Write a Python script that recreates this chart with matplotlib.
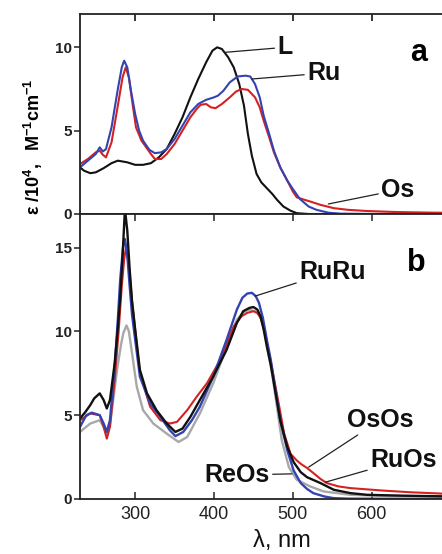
import matplotlib
matplotlib.use("Agg")
import matplotlib.pyplot as plt

plt.rcParams['font.family'] = ['Liberation Sans', 'DejaVu Sans']
plt.rcParams['mathtext.fontset'] = 'custom'
plt.rcParams['mathtext.rm'] = 'Liberation Sans'
plt.rcParams['mathtext.bf'] = 'Liberation Sans:bold'
plt.rcParams['mathtext.it'] = 'Liberation Sans:italic'

# ---------------- data: panel a ----------------
L_wl = [230, 235, 243, 250, 260, 270, 278, 290, 300, 310, 320, 330, 340, 350, 360, 370, 380, 390, 398, 404,
        410, 418, 425, 432, 438, 443, 448, 454, 460, 467, 474, 480, 488, 497, 505, 520, 550, 700]
L_eps = [2.8, 2.6, 2.45, 2.5, 2.75, 3.05, 3.2, 3.1, 2.95, 2.95, 3.05, 3.4, 3.9, 4.8, 5.8, 7.0, 8.1, 9.1, 9.8, 10.0,
         9.9, 9.4, 8.8, 7.8, 6.5, 4.8, 3.5, 2.4, 1.9, 1.55, 1.2, 0.85, 0.45, 0.2, 0.05, 0.0, 0.0, 0.0]

Ru_wl = [230, 240, 250, 255, 259, 263, 270, 278, 283, 286, 290, 295, 300, 305, 310, 318, 325, 333, 340, 350,
         360, 370, 380, 390, 400, 405, 412, 420, 430, 440, 446, 452, 458, 463, 470, 476, 484, 493, 500, 509,
         520, 530, 545, 560, 600, 700]
Ru_eps = [2.8, 3.2, 3.6, 4.0, 3.75, 3.9, 5.2, 7.5, 8.8, 9.2, 8.8, 7.3, 6.0, 5.0, 4.4, 3.85, 3.65, 3.7, 3.9, 4.5,
          5.3, 6.1, 6.6, 6.85, 7.0, 7.1, 7.4, 7.9, 8.25, 8.3, 8.25, 7.8, 7.0, 5.9, 4.8, 3.8, 2.8, 2.0, 1.5, 0.9,
          0.45, 0.25, 0.08, 0.02, 0.0, 0.0]

Os_wl = [230, 240, 250, 255, 259, 263, 270, 278, 284, 288, 292, 297, 301, 308, 314, 320, 325, 333, 340, 350,
         360, 370, 378, 383, 390, 396, 402, 410, 420, 428, 435, 443, 452, 458, 463, 470, 476, 484, 493, 500,
         505, 515, 522, 535, 552, 570, 594, 630, 679, 700]
Os_eps = [3.0, 3.3, 3.7, 3.8, 3.55, 3.4, 4.3, 6.5, 8.2, 8.8, 8.2, 6.5, 5.2, 4.4, 4.0, 3.6, 3.3, 3.3, 3.6, 4.2,
          5.0, 5.8, 6.3, 6.55, 6.6, 6.4, 6.35, 6.6, 7.0, 7.35, 7.5, 7.45, 7.0, 6.4, 5.6, 4.6, 3.7, 2.8, 2.0, 1.35,
          1.0, 0.85, 0.75, 0.55, 0.35, 0.25, 0.18, 0.12, 0.08, 0.07]

# ---------------- data: panel b ----------------
RuOs_wl = [230, 237, 243, 248, 255, 260, 264, 268, 274, 278, 281, 284, 287, 290, 293, 296, 300, 306, 315, 327,
           340, 351, 360, 370, 382, 399, 416, 429, 437, 445, 450, 455, 459, 463, 467, 472, 476, 480, 484, 489,
           493, 501, 510, 518, 535, 552, 573, 594, 637, 700]
RuOs_eps = [4.8, 5.2, 5.6, 6.0, 6.3, 5.9, 5.4, 5.9, 8.1, 10.2, 12.0, 14.5, 17.3, 16.0, 13.7, 11.8, 10.1, 7.7, 6.3, 5.3,
            4.5, 4.0, 4.2, 4.9, 5.9, 7.3, 8.9, 10.5, 11.2, 11.4, 11.45, 11.3, 10.9, 10.1, 9.1, 8.0, 6.9, 5.8, 4.7, 3.8,
            3.1, 2.2, 1.6, 1.3, 0.95, 0.55, 0.35, 0.25, 0.2, 0.15]

RuRu_wl = [230, 238, 245, 255, 260, 264, 268, 274, 278, 281, 285, 287, 290, 293, 296, 300, 306, 319, 332, 344,
           351, 361, 372, 382, 399, 416, 429, 436, 442, 448, 453, 457, 462, 467, 472, 476, 480, 484, 493, 501,
           510, 518, 526, 540, 552, 570, 700]
RuRu_eps = [4.3, 5.0, 5.15, 5.0, 4.5, 4.0, 4.7, 7.9, 10.7, 13.1, 15.2, 15.5, 14.5, 12.7, 11.0, 9.5, 7.3, 5.7, 4.9, 4.1,
            3.75, 4.0, 4.7, 5.5, 7.3, 9.5, 11.3, 12.0, 12.25, 12.3, 12.1, 11.7, 10.8, 9.5, 8.3, 7.1, 5.9, 4.7, 2.9, 1.7,
            0.95, 0.6, 0.35, 0.15, 0.05, 0.02, 0.0]

OsOs_wl = [230, 243, 255, 260, 264, 268, 274, 279, 283, 286, 288, 291, 293, 296, 300, 306, 319, 332, 344, 353,
           366, 378, 391, 408, 425, 435, 442, 450, 455, 459, 463, 467, 472, 478, 484, 489, 497, 505, 510, 518,
           526, 535, 543, 558, 573, 615, 650, 700]
OsOs_eps = [4.7, 5.1, 5.0, 4.3, 3.6, 4.3, 7.1, 10.0, 12.7, 14.3, 14.9, 14.3, 13.5, 11.8, 10.1, 7.5, 5.5, 4.7, 4.5, 4.6,
            5.3, 6.1, 6.9, 8.3, 10.3, 10.9, 11.1, 11.2, 11.1, 10.8, 10.2, 9.3, 8.2, 6.7, 5.2, 3.9, 2.7, 2.3, 2.1, 1.85,
            1.55, 1.2, 0.95, 0.75, 0.65, 0.5, 0.4, 0.3]

ReOs_wl = [230, 243, 255, 260, 264, 268, 277, 282, 285, 289, 292, 296, 302, 310, 323, 340, 355, 366, 382, 399,
           416, 429, 438, 444, 452, 457, 461, 465, 469, 474, 478, 482, 486, 495, 505, 522, 539, 573, 620, 700]
ReOs_eps = [4.0, 4.5, 4.7, 4.3, 3.9, 4.4, 7.7, 9.2, 9.9, 10.35, 10.0, 8.7, 6.7, 5.3, 4.5, 3.9, 3.4, 3.7, 5.1, 6.9,
            9.1, 10.7, 11.15, 11.3, 11.2, 11.0, 10.7, 9.9, 8.7, 7.4, 6.1, 4.8, 3.5, 1.9, 1.15, 0.75, 0.45, 0.25, 0.18, 0.15]

xticks = [300, 400, 500, 600]
yticks_a = [0, 5, 10]
yticks_b = [0, 5, 10, 15]

BLACK = '#111111'
BLUE = '#3343b0'
RED = '#d42222'
GRAY = '#a8a8a8'

fig = plt.figure(figsize=(4.42, 5.54), dpi=100)
ax_a = fig.add_axes([80/442, 1 - 214/554, 370.5/442, 200/554])
ax_b = fig.add_axes([80/442, 1 - 499/554, 370.5/442, 285/554])

lw = 1.5
ax_a.plot(L_wl, L_eps, color=BLACK, lw=lw)
ax_a.plot(Os_wl, Os_eps, color=RED, lw=lw)
ax_a.plot(Ru_wl, Ru_eps, color=BLUE, lw=lw)

ax_b.plot(ReOs_wl, ReOs_eps, color=GRAY, lw=lw + 0.2)
ax_b.plot(OsOs_wl, OsOs_eps, color=RED, lw=lw)
ax_b.plot(RuRu_wl, RuRu_eps, color=BLUE, lw=lw + 0.2)
ax_b.plot(RuOs_wl, RuOs_eps, color=BLACK, lw=lw + 0.2)

for ax in (ax_a, ax_b):
    ax.set_xlim(230, 700)
    ax.set_xticks(xticks)
    for s in ax.spines.values():
        s.set_linewidth(1.3)
        s.set_color('#222222')
    ax.tick_params(axis='y', direction='out', length=4, width=1.1, left=True, right=False,
                   labelsize=11, pad=2, colors='#222222')

ax_a.set_ylim(0, 12)
ax_a.set_yticks(yticks_a)
ax_a.tick_params(axis='x', direction='in', length=5, width=1.1, top=True, bottom=False,
                 labelbottom=False)
ax_b.set_ylim(0, 17)
ax_b.set_yticks(yticks_b)
ax_b.tick_params(axis='x', direction='in', length=5, width=1.1, top=True, bottom=True,
                 labelsize=13, pad=5, colors='#222222')
for ax in (ax_a, ax_b):
    for lab in ax.get_yticklabels():
        lab.set_fontweight('bold')

# annotations panel a
tk = dict(fontsize=18, fontweight='bold', ha='center', va='center', color='#111111')
ak = dict(arrowstyle='-', color='#222222', lw=0.9, shrinkA=0, shrinkB=0)
ax_a.annotate('L', xy=(414, 9.7), xytext=(490, 10.0), arrowprops=ak, **tk)
ax_a.annotate('Ru', xy=(448, 8.1), xytext=(539, 8.45), arrowprops=ak, **tk)
ax_a.annotate('Os', xy=(545, 0.6), xytext=(633, 1.44), arrowprops=ak, **tk)
ax_a.text(659.5, 9.65, 'a', fontsize=22, fontweight='bold', ha='center', va='center')

# annotations panel b
ax_b.annotate('RuRu', xy=(452, 12.1), xytext=(550, 13.57), arrowprops=ak, **tk)
ax_b.annotate('OsOs', xy=(520, 1.9), xytext=(611, 4.7), arrowprops=ak, **tk)
ax_b.annotate('RuOs', xy=(541, 1.0), xytext=(640, 2.33), arrowprops=ak, **tk)
ax_b.annotate('ReOs', xy=(499, 1.5), xytext=(429.5, 1.43), arrowprops=ak, **tk)
ax_b.text(656, 14.1, 'b', fontsize=22, fontweight='bold', ha='center', va='center')

fig.text(33/442, 1 - 147/554, r'$\mathbf{ε\ /10^4,\ \ M^{-1}cm^{-1}}$',
         rotation=90, ha='center', va='center', fontsize=13)
fig.text(282/442, 1 - 547/554, 'λ, nm', ha='center', va='baseline', fontsize=17, color='#111111')

fig.savefig('out.png', dpi=100)
